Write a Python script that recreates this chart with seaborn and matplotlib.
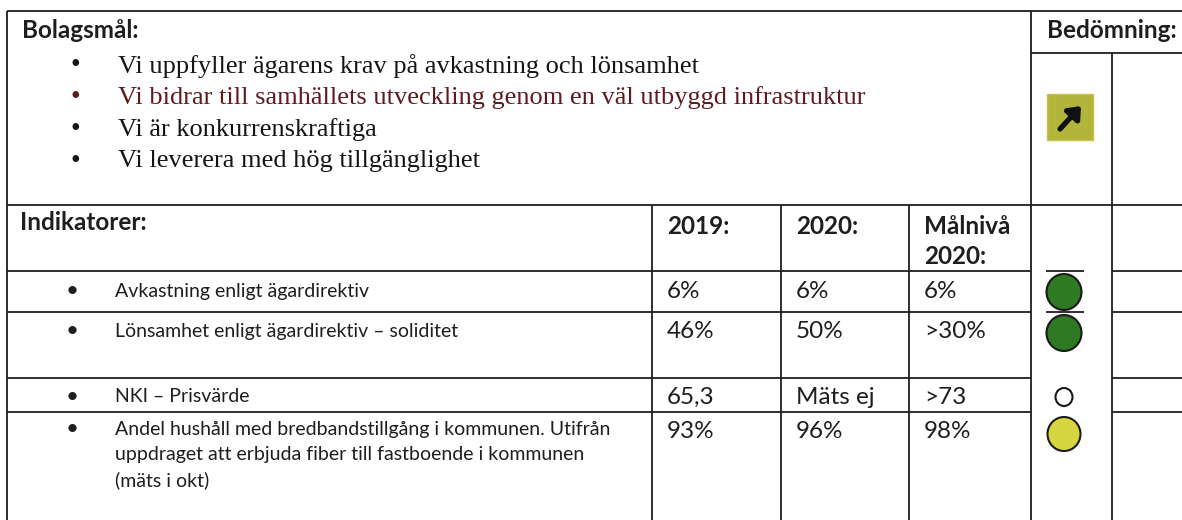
import matplotlib.pyplot as plt
import seaborn as sns
from matplotlib.patches import Ellipse, Rectangle

# --- DATA ---
goals = [
    "Vi uppfyller ägarens krav på avkastning och lönsamhet",
    "Vi bidrar till samhällets utveckling genom en väl utbyggd infrastruktur",
    "Vi är konkurrenskraftiga",
    "Vi leverera med hög tillgänglighet",
]
goal_colors = ["#151515", "#5e1b1e", "#151515", "#151515"]

header_cols = ["2019:", "2020:", "Målnivå\n2020:"]
indicators = [
    "Avkastning enligt ägardirektiv",
    "Lönsamhet enligt ägardirektiv – soliditet",
    "NKI – Prisvärde",
    "Andel hushåll med bredbandstillgång i kommunen. Utifrån\n"
    "uppdraget att erbjuda fiber till fastboende i kommunen\n(mäts i okt)",
]
values_2019 = ["6%", "46%", "65,3", "93%"]
values_2020 = ["6%", "50%", "Mäts ej", "96%"]
target_2020 = ["6%", ">30%", ">73", "98%"]
status = ["grön", "grön", "ej mätt", "gul"]
status_colors = {"grön": "#2e7a22", "gul": "#d8d640", "ej mätt": "white"}

# --- LAYOUT (pixel coords) ---
W, H = 1182, 520
col_x = [652, 781, 909]          # vänsterkant för värdekolumner
circ_x = 1064
row_y = [291, 331, 397, 429]      # textens mitt per rad
row_lines = [312, 378, 412]
circ_y = [292, 333, 397, 434]
circ_r = [18, 18, 9, 17]
ink = "#1e1e1e"
big = 17.5
small = 14

sns.set_theme(style="white")
plt.rcParams['font.family'] = ['Lato', 'DejaVu Sans']

fig = plt.figure(figsize=(W / 100, H / 100), dpi=100)
ax = fig.add_axes([0, 0, 1, 1])
ax.set_xlim(0, W)
ax.set_ylim(H, 0)
ax.axis('off')


def hl(y, x0, x1):
    ax.plot([x0, x1], [y, y], color=ink, lw=1.3, solid_capstyle='butt')


def vl(x, y0, y1):
    ax.plot([x, x], [y0, y1], color=ink, lw=1.3, solid_capstyle='butt')


# ramar
vl(7, 11, H)
hl(11, 7, W)
vl(1031, 11, H)
hl(53, 1031, W)
vl(1112, 53, H)
hl(205, 7, W)
hl(271, 7, 1031)
hl(271, 1112, W)
hl(271, 1046, 1084)
for x in col_x:
    vl(x, 205, H)
for y in row_lines:
    hl(y, 7, 1031)
    hl(y, 1112, W)
hl(row_lines[0], 1046, 1084)

# bolagsmål
ax.text(22, 30, "Bolagsmål:", fontsize=big, fontweight='bold', va='center', color=ink)
ax.text(1047, 31, "Bedömning:", fontsize=big, fontweight='bold', va='center', color=ink)
for i, (g, c) in enumerate(zip(goals, goal_colors)):
    y = 66 + i * 31.7
    ax.text(75, y, "•", fontsize=20, family='Liberation Serif', va='center', ha='center', color=c)
    ax.text(118, y, g, fontsize=19, family='Liberation Serif', va='center', color=c)

# trend-ikon
ax.add_patch(Rectangle((1047, 94), 46, 46, color="#b3b43c", ec="#c9c24a", lw=1))
ax.annotate("", xy=(1081, 106), xytext=(1060, 129),
            arrowprops=dict(arrowstyle="-|>,head_length=0.55,head_width=0.45",
                            color="#111111", lw=3.8, shrinkA=0, shrinkB=0))

# indikatorer
ax.text(20, 222, "Indikatorer:", fontsize=big, fontweight='bold', va='center', color=ink)
for x, h in zip(col_x, header_cols):
    for j, line in enumerate(h.split("\n")):
        ax.text(x + 15, 226 + j * 30, line, fontsize=big, fontweight='bold', va='center', color=ink)

for i, name in enumerate(indicators):
    y = row_y[i]
    ax.text(72, y, "•", fontsize=16, va='center', ha='center', color=ink)
    for j, line in enumerate(name.split("\n")):
        ax.text(115, y + j * 25.5, line, fontsize=small, va='center', color=ink)
    for x, vals in zip(col_x, [values_2019, values_2020, target_2020]):
        ax.text(x + 15, y + (2 if i == 3 else 0), vals[i], fontsize=big, va='center', color=ink)
    ax.add_patch(Ellipse((circ_x, circ_y[i]), 2 * circ_r[i] - 1, 2 * circ_r[i],
                         fc=status_colors[status[i]], ec="#1a1a1a", lw=1.5))

fig.savefig("out.png", dpi=100)
